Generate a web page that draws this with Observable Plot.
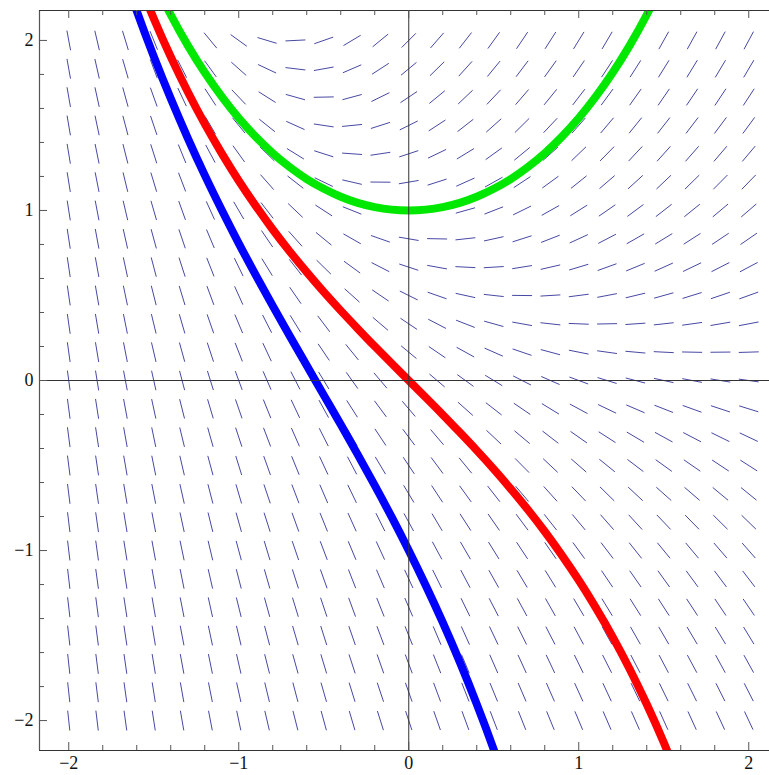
<!DOCTYPE html>
<html><head><meta charset="utf-8">
<script src="https://cdn.jsdelivr.net/npm/d3@7"></script>
<script src="https://cdn.jsdelivr.net/npm/@observablehq/plot@0.6"></script>
<style>html,body{margin:0;padding:0;background:#fff;overflow:hidden}</style>
</head><body><div id="chart"></div>
<script>
// Grid of the slope field (x columns, y rows from top to bottom)
const xsGrid = [-2, -1.8333, -1.6667, -1.5, -1.3333, -1.1667, -1, -0.8333, -0.6667, -0.5, -0.3333, -0.1667, 0, 0.1667, 0.3333, 0.5, 0.6667, 0.8333, 1, 1.1667, 1.3333, 1.5, 1.6667, 1.8333, 2];
const ysGrid = [2, 1.8333, 1.6667, 1.5, 1.3333, 1.1667, 1, 0.8333, 0.6667, 0.5, 0.3333, 0.1667, 0, -0.1667, -0.3333, -0.5, -0.6667, -0.8333, -1, -1.1667, -1.3333, -1.5, -1.6667, -1.8333, -2];
// Slope of each dash (row = ysGrid index, column = xsGrid index)
const slopes = [
[-5.39,-4.25,-3.29,-2.48,-1.79,-1.21,-0.72,-0.30,0.05,0.35,0.60,0.82,1.00,1.15,1.28,1.39,1.49,1.56,1.63,1.69,1.74,1.78,1.81,1.84,1.86],
[-5.56,-4.42,-3.46,-2.65,-1.96,-1.38,-0.89,-0.47,-0.12,0.18,0.43,0.65,0.83,0.98,1.11,1.22,1.32,1.39,1.46,1.52,1.57,1.61,1.64,1.67,1.69],
[-5.72,-4.58,-3.62,-2.81,-2.12,-1.54,-1.05,-0.63,-0.28,0.02,0.27,0.49,0.67,0.82,0.95,1.06,1.16,1.23,1.30,1.36,1.41,1.45,1.48,1.51,1.53],
[-5.89,-4.75,-3.79,-2.98,-2.29,-1.71,-1.22,-0.80,-0.45,-0.15,0.10,0.32,0.50,0.65,0.78,0.89,0.99,1.06,1.13,1.19,1.24,1.28,1.31,1.34,1.36],
[-6.06,-4.92,-3.96,-3.15,-2.46,-1.88,-1.39,-0.97,-0.62,-0.32,-0.07,0.15,0.33,0.48,0.61,0.72,0.82,0.89,0.96,1.02,1.07,1.11,1.14,1.17,1.19],
[-6.22,-5.08,-4.12,-3.31,-2.62,-2.04,-1.55,-1.13,-0.78,-0.48,-0.23,-0.01,0.17,0.32,0.45,0.56,0.66,0.73,0.80,0.86,0.91,0.95,0.98,1.01,1.03],
[-6.39,-5.25,-4.29,-3.48,-2.79,-2.21,-1.72,-1.30,-0.95,-0.65,-0.40,-0.18,0.00,0.15,0.28,0.39,0.49,0.56,0.63,0.69,0.74,0.78,0.81,0.84,0.86],
[-6.56,-5.42,-4.46,-3.65,-2.96,-2.38,-1.89,-1.47,-1.12,-0.82,-0.57,-0.35,-0.17,-0.02,0.11,0.22,0.32,0.39,0.46,0.52,0.57,0.61,0.64,0.67,0.69],
[-6.72,-5.58,-4.62,-3.81,-3.12,-2.54,-2.05,-1.63,-1.28,-0.98,-0.73,-0.51,-0.33,-0.18,-0.05,0.06,0.16,0.23,0.30,0.36,0.41,0.45,0.48,0.51,0.53],
[-6.89,-5.75,-4.79,-3.98,-3.29,-2.71,-2.22,-1.80,-1.45,-1.15,-0.90,-0.68,-0.50,-0.35,-0.22,-0.11,-0.01,0.06,0.13,0.19,0.24,0.28,0.31,0.34,0.36],
[-7.06,-5.92,-4.96,-4.15,-3.46,-2.88,-2.39,-1.97,-1.62,-1.32,-1.07,-0.85,-0.67,-0.52,-0.39,-0.28,-0.18,-0.11,-0.04,0.02,0.07,0.11,0.14,0.17,0.19],
[-7.22,-6.08,-5.12,-4.31,-3.62,-3.04,-2.55,-2.13,-1.78,-1.48,-1.23,-1.01,-0.83,-0.68,-0.55,-0.44,-0.34,-0.27,-0.20,-0.14,-0.09,-0.05,-0.02,0.01,0.03],
[-7.39,-6.25,-5.29,-4.48,-3.79,-3.21,-2.72,-2.30,-1.95,-1.65,-1.40,-1.18,-1.00,-0.85,-0.72,-0.61,-0.51,-0.44,-0.37,-0.31,-0.26,-0.22,-0.19,-0.16,-0.14],
[-7.56,-6.42,-5.46,-4.65,-3.96,-3.38,-2.89,-2.47,-2.12,-1.82,-1.57,-1.35,-1.17,-1.02,-0.89,-0.78,-0.68,-0.61,-0.54,-0.48,-0.43,-0.39,-0.36,-0.33,-0.31],
[-7.72,-6.58,-5.62,-4.81,-4.12,-3.54,-3.05,-2.63,-2.28,-1.98,-1.73,-1.51,-1.33,-1.18,-1.05,-0.94,-0.84,-0.77,-0.70,-0.64,-0.59,-0.55,-0.52,-0.49,-0.47],
[-7.89,-6.75,-5.79,-4.98,-4.29,-3.71,-3.22,-2.80,-2.45,-2.15,-1.90,-1.68,-1.50,-1.35,-1.22,-1.11,-1.01,-0.94,-0.87,-0.81,-0.76,-0.72,-0.69,-0.66,-0.64],
[-8.06,-6.92,-5.96,-5.15,-4.46,-3.88,-3.39,-2.97,-2.62,-2.32,-2.07,-1.85,-1.67,-1.52,-1.39,-1.28,-1.18,-1.11,-1.04,-0.98,-0.93,-0.89,-0.86,-0.83,-0.81],
[-8.22,-7.08,-6.12,-5.31,-4.62,-4.04,-3.55,-3.13,-2.78,-2.48,-2.23,-2.01,-1.83,-1.68,-1.55,-1.44,-1.34,-1.27,-1.20,-1.14,-1.09,-1.05,-1.02,-0.99,-0.97],
[-8.39,-7.25,-6.29,-5.48,-4.79,-4.21,-3.72,-3.30,-2.95,-2.65,-2.40,-2.18,-2.00,-1.85,-1.72,-1.61,-1.51,-1.44,-1.37,-1.31,-1.26,-1.22,-1.19,-1.16,-1.14],
[-8.56,-7.42,-6.46,-5.65,-4.96,-4.38,-3.89,-3.47,-3.12,-2.82,-2.57,-2.35,-2.17,-2.02,-1.89,-1.78,-1.68,-1.61,-1.54,-1.48,-1.43,-1.39,-1.36,-1.33,-1.31],
[-8.72,-7.58,-6.62,-5.81,-5.12,-4.54,-4.05,-3.63,-3.28,-2.98,-2.73,-2.51,-2.33,-2.18,-2.05,-1.94,-1.84,-1.77,-1.70,-1.64,-1.59,-1.55,-1.52,-1.49,-1.47],
[-8.89,-7.75,-6.79,-5.98,-5.29,-4.71,-4.22,-3.80,-3.45,-3.15,-2.90,-2.68,-2.50,-2.35,-2.22,-2.11,-2.01,-1.94,-1.87,-1.81,-1.76,-1.72,-1.69,-1.66,-1.64],
[-9.06,-7.92,-6.96,-6.15,-5.46,-4.88,-4.39,-3.97,-3.62,-3.32,-3.07,-2.85,-2.67,-2.52,-2.39,-2.28,-2.18,-2.11,-2.04,-1.98,-1.93,-1.89,-1.86,-1.83,-1.81],
[-9.22,-8.08,-7.12,-6.31,-5.62,-5.04,-4.55,-4.13,-3.78,-3.48,-3.23,-3.01,-2.83,-2.68,-2.55,-2.44,-2.34,-2.27,-2.20,-2.14,-2.09,-2.05,-2.02,-1.99,-1.97],
[-9.39,-8.25,-7.29,-6.48,-5.79,-5.21,-4.72,-4.30,-3.95,-3.65,-3.40,-3.18,-3.00,-2.85,-2.72,-2.61,-2.51,-2.44,-2.37,-2.31,-2.26,-2.22,-2.19,-2.16,-2.14]
];

// Solution curves [x, y]
const greenCurve = [[-1.5,2.352],[-1.4,2.151],[-1.3,1.971],[-1.2,1.811],[-1.1,1.669],[-1.0,1.543],[-0.9,1.433],[-0.8,1.337],[-0.7,1.255],[-0.6,1.185],[-0.5,1.128],[-0.4,1.081],[-0.3,1.045],[-0.2,1.020],[-0.1,1.005],[0,1],[0.1,1.005],[0.2,1.020],[0.3,1.045],[0.4,1.081],[0.5,1.128],[0.6,1.185],[0.7,1.255],[0.8,1.337],[0.9,1.433],[1.0,1.543],[1.1,1.669],[1.2,1.811],[1.3,1.971],[1.4,2.151],[1.5,2.352]];
const redCurve = [[-1.6,2.376],[-1.5,2.129],[-1.4,1.904],[-1.3,1.698],[-1.2,1.509],[-1.1,1.336],[-1.0,1.175],[-0.9,1.027],[-0.8,0.888],[-0.7,0.759],[-0.6,0.637],[-0.5,0.521],[-0.4,0.411],[-0.3,0.305],[-0.2,0.201],[-0.1,0.100],[0,0],[0.1,-0.100],[0.2,-0.201],[0.3,-0.305],[0.4,-0.411],[0.5,-0.521],[0.6,-0.637],[0.7,-0.759],[0.8,-0.888],[0.9,-1.027],[1.0,-1.175],[1.1,-1.336],[1.2,-1.509],[1.3,-1.698],[1.4,-1.904],[1.5,-2.129],[1.6,-2.376]];
const blueCurve = [[-1.7,2.463],[-1.6,2.173],[-1.5,1.906],[-1.4,1.658],[-1.3,1.426],[-1.2,1.208],[-1.1,1.003],[-1.0,0.807],[-0.9,0.620],[-0.8,0.439],[-0.7,0.262],[-0.6,0.088],[-0.5,-0.086],[-0.4,-0.259],[-0.3,-0.436],[-0.2,-0.617],[-0.1,-0.804],[0,-1],[0.1,-1.206],[0.2,-1.423],[0.3,-1.655],[0.4,-1.903],[0.5,-2.170],[0.6,-2.459]];

// Ticks
const majorTicks = [-2, -1, 0, 1, 2];
const minorTicks = [-1.8,-1.6,-1.4,-1.2,-0.8,-0.6,-0.4,-0.2,0.2,0.4,0.6,0.8,1.2,1.4,1.6,1.8];

const X_DOMAIN = [-2.172, 2.122];
const Y_DOMAIN = [-2.176, 2.176];
const PX = 170;            // pixels per data unit (both axes)
const HALF = 10 / PX;      // half dash length in data units
const MAJ = 8 / PX, MIN = 5 / PX;

const field = [];
ysGrid.forEach((y, i) => xsGrid.forEach((x, j) => {
  const a = Math.atan(slopes[i][j]);
  const dx = HALF * Math.cos(a), dy = HALF * Math.sin(a);
  field.push({x1: x - dx, y1: y - dy, x2: x + dx, y2: y + dy});
}));

const fmt = d => d < 0 ? "\u2212" + Math.abs(d) : String(d);
const frameColor = "#555";
const font = "Liberation Serif, Times New Roman, serif";

const chart = Plot.plot({
  width: 769, height: 775,
  marginLeft: 39, marginRight: 0, marginTop: 10, marginBottom: 25,
  x: {domain: X_DOMAIN, axis: null},
  y: {domain: Y_DOMAIN, axis: null},
  style: {background: "#fff"},
  marks: [
    Plot.link(field, {x1: "x1", y1: "y1", x2: "x2", y2: "y2", stroke: "#4848a4", strokeWidth: 1}),
    Plot.line(greenCurve, {x: d => d[0], y: d => d[1], stroke: "#00e800", strokeWidth: 8, curve: "natural", clip: true}),
    Plot.line(redCurve, {x: d => d[0], y: d => d[1], stroke: "#ff0000", strokeWidth: 8, curve: "natural", clip: true}),
    Plot.line(blueCurve, {x: d => d[0], y: d => d[1], stroke: "#0000ff", strokeWidth: 8, curve: "natural", clip: true}),
    // axes through origin
    Plot.ruleX([0], {stroke: "#333", strokeWidth: 1}),
    Plot.ruleY([0], {stroke: "#333", strokeWidth: 1}),
    // frame (left, top, bottom)
    Plot.ruleX([X_DOMAIN[0]], {stroke: frameColor, strokeWidth: 1.2}),
    Plot.ruleY([Y_DOMAIN[0], Y_DOMAIN[1]], {stroke: "#333", strokeWidth: 1.2}),
    // bottom ticks
    Plot.ruleX(majorTicks, {y1: Y_DOMAIN[0], y2: Y_DOMAIN[0] + MAJ, stroke: frameColor}),
    Plot.ruleX(minorTicks, {y1: Y_DOMAIN[0], y2: Y_DOMAIN[0] + MIN, stroke: frameColor}),
    // top ticks
    Plot.ruleX(majorTicks, {y1: Y_DOMAIN[1] - MAJ, y2: Y_DOMAIN[1], stroke: frameColor}),
    Plot.ruleX(minorTicks, {y1: Y_DOMAIN[1] - MIN, y2: Y_DOMAIN[1], stroke: frameColor}),
    // left ticks
    Plot.ruleY(majorTicks, {x1: X_DOMAIN[0], x2: X_DOMAIN[0] + MAJ, stroke: frameColor}),
    Plot.ruleY(minorTicks, {x1: X_DOMAIN[0], x2: X_DOMAIN[0] + MIN, stroke: frameColor}),
    // labels
    Plot.text(majorTicks, {x: d => d, y: Y_DOMAIN[0], dy: 12.5, text: fmt, fontSize: 18, fontFamily: font, fill: "#111"}),
    Plot.text(majorTicks, {x: X_DOMAIN[0], y: d => d, dx: -6, text: fmt, textAnchor: "end", fontSize: 18, fontFamily: font, fill: "#111"})
  ]
});
document.getElementById("chart").appendChild(chart);
</script>
</body></html>
